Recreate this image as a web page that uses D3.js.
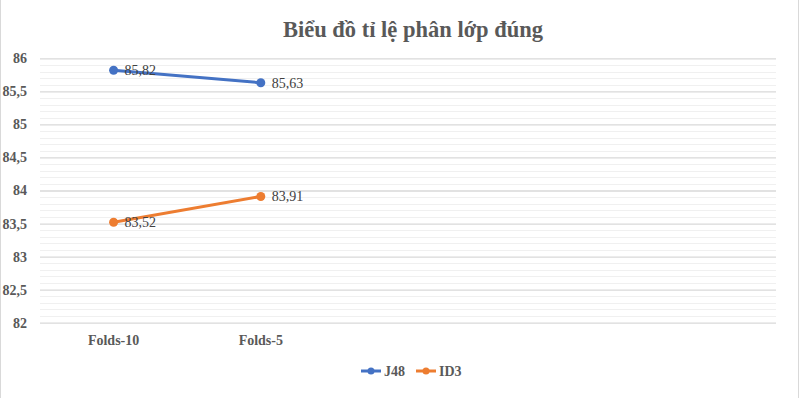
<!DOCTYPE html>
<html><head><meta charset="utf-8">
<script src="https://cdn.jsdelivr.net/npm/d3@7"></script>
<style>body{margin:0;background:#fff}svg{display:block}</style>
</head><body>
<script>
const categories = ["Folds-10", "Folds-5", "", " ", "  "];
const seriesNames = ["J48", "ID3"];
const j48 = [85.82, 85.63];
const id3 = [83.52, 83.91];
const seriesColors = ["#4472C4", "#ED7D31"];
const yTicks = [82, 82.5, 83, 83.5, 84, 84.5, 85, 85.5, 86];
const title = "Biểu đồ tỉ lệ phân lớp đúng";

const W = 800, H = 398;
const svg = d3.select("body").append("svg").attr("width", W).attr("height", H);
const font = "'Liberation Serif','Times New Roman',serif";
const fmt = v => String(v).replace(".", ",");

svg.append("line").attr("x1",0.5).attr("x2",0.5).attr("y1",0).attr("y2",H).attr("stroke","#d9d9d9");
svg.append("line").attr("x1",798.5).attr("x2",798.5).attr("y1",0).attr("y2",H).attr("stroke","#d9d9d9");

const x = d3.scaleBand().domain(categories).range([40, 776]);
const y = d3.scaleLinear().domain([82, 86]).range([322.7, 58.3]);

// minor gridlines
const minor = d3.range(82, 86.001, 0.1).filter(v => Math.abs(v*2 - Math.round(v*2)) > 1e-6);
svg.append("g").selectAll("line").data(minor).join("line")
  .attr("x1", 40).attr("x2", 776)
  .attr("y1", d => Math.round(y(d)) + 0.5).attr("y2", d => Math.round(y(d)) + 0.5)
  .attr("stroke", "#f0f0f0").attr("stroke-width", 1);

// major gridlines
const yAxis = d3.axisLeft(y).tickValues(yTicks).tickSize(-(776-40)).tickFormat(fmt).tickPadding(13);
const gy = svg.append("g").attr("transform", "translate(40,0)").call(yAxis);
gy.select(".domain").remove();
gy.selectAll(".tick line").attr("stroke", "#d9d9d9").attr("stroke-width", 1.3);
gy.selectAll(".tick text").attr("font-family", font).attr("font-size", 14).attr("font-weight", "bold").attr("fill", "#595959");

const xAxis = d3.axisBottom(x).tickSize(0).tickPadding(12);
const gx = svg.append("g").attr("transform", "translate(0,322.7)").call(xAxis);
gx.select(".domain").remove();
gx.selectAll(".tick text").attr("font-family", font).attr("font-size", 14).attr("font-weight", "bold").attr("fill", "#595959");

const cx = c => x(c) + x.bandwidth()/2;
const series = [j48, id3];
const line = d3.line().x((d,i) => cx(categories[i])).y(d => y(d));
series.forEach((s, k) => {
  const g = svg.append("g");
  g.append("path").datum(s).attr("d", line).attr("fill", "none")
    .attr("stroke", seriesColors[k]).attr("stroke-width", 3).attr("stroke-linecap", "round");
  g.selectAll("circle").data(s).join("circle")
    .attr("cx", (d,i) => cx(categories[i])).attr("cy", d => y(d)).attr("r", 4.5)
    .attr("fill", seriesColors[k]);
  g.selectAll("text").data(s).join("text")
    .attr("x", (d,i) => cx(categories[i]) + 11).attr("y", d => y(d) + 5)
    .attr("font-family", font).attr("font-size", 14).attr("fill", "#404040")
    .text(fmt);
});

// title
svg.append("text").attr("x", 413).attr("y", 37).attr("text-anchor", "middle")
  .attr("font-family", font).attr("font-size", 22.5).attr("font-weight", "bold").attr("fill", "#595959")
  .text(title);

// legend
const legX = [361, 416];
seriesNames.forEach((n, k) => {
  const g = svg.append("g");
  g.append("line").attr("x1", legX[k]).attr("x2", legX[k] + 20).attr("y1", 371).attr("y2", 371)
    .attr("stroke", seriesColors[k]).attr("stroke-width", 3);
  g.append("circle").attr("cx", legX[k] + 10).attr("cy", 371).attr("r", 3.5).attr("fill", seriesColors[k]);
  g.append("text").attr("x", legX[k] + 23).attr("y", 376)
    .attr("font-family", font).attr("font-size", 14).attr("font-weight", "bold").attr("fill", "#595959").text(n);
});
</script>
</body></html>
